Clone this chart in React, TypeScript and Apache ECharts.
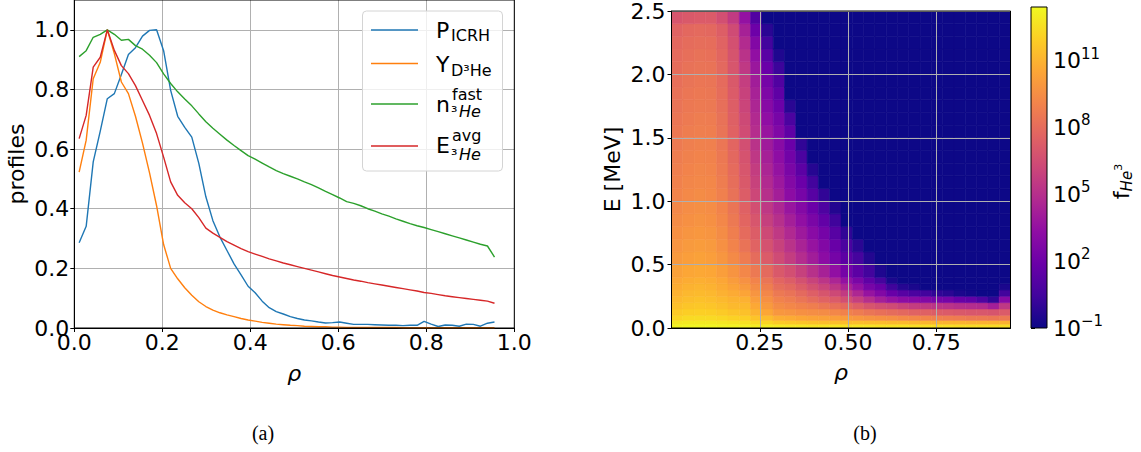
import React, { useEffect, useRef } from 'react';
import * as echarts from 'echarts';

// ---------- panel (a): normalised radial profiles ----------
const rho = [0.011, 0.027, 0.043, 0.059, 0.075, 0.091, 0.107, 0.123, 0.139, 0.155, 0.171, 0.187, 0.203, 0.219, 0.235, 0.251, 0.267, 0.283, 0.299, 0.315, 0.331, 0.347, 0.363, 0.379, 0.395, 0.411, 0.427, 0.443, 0.459, 0.475, 0.491, 0.507, 0.523, 0.539, 0.555, 0.571, 0.587, 0.603, 0.619, 0.635, 0.651, 0.667, 0.683, 0.699, 0.715, 0.731, 0.747, 0.763, 0.779, 0.795, 0.811, 0.827, 0.843, 0.859, 0.875, 0.891, 0.907, 0.923, 0.939, 0.955];
const pICRH = [0.286, 0.341, 0.557, 0.66, 0.769, 0.786, 0.85, 0.917, 0.94, 0.979, 0.998, 1.0, 0.93, 0.797, 0.71, 0.673, 0.64, 0.552, 0.44, 0.36, 0.305, 0.26, 0.215, 0.178, 0.14, 0.118, 0.09, 0.068, 0.055, 0.047, 0.038, 0.032, 0.027, 0.024, 0.02, 0.017, 0.018, 0.02, 0.016, 0.012, 0.012, 0.012, 0.011, 0.01, 0.009, 0.009, 0.008, 0.009, 0.009, 0.022, 0.013, 0.005, 0.01, 0.009, 0.006, 0.013, 0.012, 0.006, 0.016, 0.02];
const yD3He = [0.523, 0.63, 0.836, 0.891, 1.0, 0.92, 0.825, 0.786, 0.71, 0.62, 0.52, 0.41, 0.28, 0.2, 0.165, 0.135, 0.11, 0.088, 0.072, 0.06, 0.051, 0.044, 0.038, 0.032, 0.027, 0.023, 0.019, 0.016, 0.013, 0.011, 0.009, 0.008, 0.006, 0.005, 0.004, 0.004, 0.003, 0.003, 0.002, 0.002, 0.002, 0.002, 0.002, 0.002, 0.002, 0.002, 0.001, 0.001, 0.001, 0.001, 0.001, 0.001, 0.001, 0.001, 0.001, 0.001, 0.001, 0.001, 0.001, 0.001];
const nFast = [0.91, 0.93, 0.975, 0.985, 1.0, 0.985, 0.965, 0.968, 0.947, 0.935, 0.915, 0.89, 0.852, 0.82, 0.792, 0.768, 0.745, 0.718, 0.692, 0.67, 0.65, 0.63, 0.612, 0.595, 0.578, 0.566, 0.553, 0.54, 0.528, 0.518, 0.509, 0.5, 0.49, 0.481, 0.47, 0.458, 0.447, 0.436, 0.424, 0.418, 0.41, 0.4, 0.392, 0.383, 0.375, 0.366, 0.358, 0.35, 0.343, 0.337, 0.33, 0.323, 0.316, 0.309, 0.302, 0.295, 0.288, 0.281, 0.275, 0.238];
const eAvg = [0.635, 0.713, 0.875, 0.908, 1.0, 0.931, 0.88, 0.853, 0.813, 0.763, 0.713, 0.652, 0.573, 0.49, 0.445, 0.42, 0.4, 0.37, 0.335, 0.318, 0.304, 0.29, 0.278, 0.266, 0.256, 0.248, 0.24, 0.232, 0.225, 0.218, 0.212, 0.206, 0.2, 0.194, 0.188, 0.182, 0.176, 0.171, 0.166, 0.161, 0.157, 0.152, 0.148, 0.144, 0.14, 0.136, 0.132, 0.128, 0.124, 0.119, 0.116, 0.112, 0.108, 0.105, 0.102, 0.099, 0.096, 0.093, 0.09, 0.083];
const profileTicks = [0, 0.2, 0.4, 0.6, 0.8, 1.0];

// ---------- panel (b): log10 f_He3(rho, E) ----------
const rhoEdges = [0, 0.032, 0.064, 0.096, 0.128, 0.16, 0.192, 0.224, 0.256, 0.288, 0.32, 0.352, 0.384, 0.416, 0.448, 0.48, 0.512, 0.544, 0.576, 0.608, 0.64, 0.672, 0.704, 0.736, 0.768, 0.8, 0.832, 0.864, 0.896, 0.928, 0.96];
const energyEdges = [0, 0.03, 0.06, 0.1, 0.15, 0.2, 0.25, 0.3, 0.35, 0.4, 0.5, 0.6, 0.7, 0.8, 0.9, 1.0, 1.1, 1.2, 1.3, 1.4, 1.5, 1.6, 1.7, 1.8, 1.9, 2.0, 2.1, 2.2, 2.3, 2.4, 2.5];
// one row per rho column, values from the lowest energy bin upwards
const logF = [
  [13.2, 12.8, 12.2, 11.8, 11.45, 11.2, 10.95, 10.75, 10.55, 10.3, 10.0, 9.8, 9.6, 9.4, 9.25, 9.1, 8.95, 8.85, 8.75, 8.65, 8.55, 8.45, 8.35, 8.25, 8.15, 8.05, 7.95, 7.8, 7.6, 6.9],
  [13.3, 12.9, 12.35, 11.95, 11.65, 11.4, 11.15, 10.95, 10.75, 10.5, 10.2, 10.0, 9.8, 9.6, 9.45, 9.3, 9.15, 9.05, 8.95, 8.85, 8.75, 8.65, 8.55, 8.45, 8.35, 8.25, 8.15, 8.0, 7.8, 7.1],
  [13.3, 12.9, 12.4, 12.0, 11.7, 11.5, 11.25, 11.05, 10.85, 10.6, 10.3, 10.1, 9.9, 9.7, 9.55, 9.4, 9.25, 9.15, 9.05, 8.95, 8.85, 8.75, 8.65, 8.55, 8.45, 8.35, 8.25, 8.1, 7.9, 7.2],
  [13.3, 12.9, 12.35, 11.95, 11.65, 11.4, 11.15, 10.95, 10.75, 10.5, 10.2, 10.0, 9.8, 9.6, 9.45, 9.3, 9.2, 9.1, 9.0, 8.9, 8.8, 8.7, 8.6, 8.5, 8.4, 8.3, 8.2, 8.05, 7.8, 7.2],
  [13.2, 12.8, 12.25, 11.8, 11.45, 11.2, 10.9, 10.7, 10.5, 10.2, 9.85, 9.6, 9.4, 9.2, 9.05, 8.9, 8.75, 8.65, 8.55, 8.45, 8.35, 8.25, 8.15, 8.05, 7.95, 7.85, 7.75, 7.6, 7.35, 6.6],
  [13.2, 12.7, 12.1, 11.6, 11.2, 11.0, 10.7, 10.4, 10.1, 9.75, 9.35, 9.05, 8.8, 8.6, 8.4, 8.25, 8.1, 7.95, 7.8, 7.7, 7.55, 7.45, 7.35, 7.2, 7.1, 6.95, 6.85, 6.65, 6.4, 5.6],
  [13.1, 12.6, 12.0, 11.5, 11.2, 10.9, 10.45, 10.0, 9.65, 9.2, 8.7, 8.3, 7.95, 7.7, 7.5, 7.3, 7.1, 6.95, 6.8, 6.6, 6.45, 6.3, 6.1, 5.95, 5.75, 5.5, 5.2, 4.8, 4.3, 3.5],
  [13.0, 12.4, 11.6, 11.0, 10.6, 10.2, 9.8, 9.4, 9.05, 8.6, 8.0, 7.6, 7.3, 6.95, 6.6, 6.2, 5.95, 5.7, 5.45, 5.2, 4.95, 4.75, 4.55, 4.35, 4.1, 3.8, 3.4, 2.8, 2.0, 1.0],
  [13.0, 12.2, 11.3, 10.5, 10.0, 9.6, 9.2, 8.8, 8.4, 7.9, 7.2, 6.75, 6.3, 5.85, 5.45, 5.05, 4.75, 4.5, 4.25, 4.0, 3.7, 3.35, 3.0, 2.65, 2.3, 1.85, 1.3, 0.5, -0.2, -1],
  [12.9, 11.8, 10.8, 9.9, 9.4, 9.0, 8.6, 8.1, 7.7, 7.1, 6.4, 5.95, 5.5, 5.05, 4.6, 4.15, 3.85, 3.55, 3.3, 3.05, 2.75, 2.4, 2.0, 1.5, 1.0, 0.3, -0.5, -1, -1, -1],
  [12.8, 11.7, 10.7, 9.8, 9.2, 8.75, 8.3, 7.8, 7.3, 6.6, 5.7, 5.2, 4.7, 4.2, 3.7, 3.2, 2.85, 2.5, 2.2, 1.9, 1.5, 0.8, -0.2, -1, -1, -1, -1, -1, -1, -1],
  [12.8, 11.6, 10.5, 9.6, 9.0, 8.4, 7.9, 7.3, 6.7, 5.9, 4.9, 4.4, 3.9, 3.4, 2.9, 2.4, 1.9, 1.4, 0.8, 0.0, -1, -1, -1, -1, -1, -1, -1, -1, -1, -1],
  [12.7, 11.5, 10.4, 9.5, 8.8, 8.0, 7.4, 6.7, 6.0, 5.1, 4.1, 3.6, 3.1, 2.5, 1.9, 1.2, 0.5, -0.3, -1, -1, -1, -1, -1, -1, -1, -1, -1, -1, -1, -1],
  [12.7, 11.4, 10.3, 9.4, 8.5, 7.6, 6.9, 6.1, 5.3, 4.3, 3.2, 2.8, 2.3, 1.6, 0.9, 0.0, -1, -1, -1, -1, -1, -1, -1, -1, -1, -1, -1, -1, -1, -1],
  [12.7, 11.4, 10.2, 9.2, 8.2, 7.2, 6.3, 5.4, 4.5, 3.4, 2.3, 1.8, 1.2, 0.4, -0.4, -1, -1, -1, -1, -1, -1, -1, -1, -1, -1, -1, -1, -1, -1, -1],
  [12.6, 11.3, 10.1, 9.0, 7.9, 6.6, 5.6, 4.5, 3.5, 2.3, 1.4, 0.8, 0.0, -1, -1, -1, -1, -1, -1, -1, -1, -1, -1, -1, -1, -1, -1, -1, -1, -1],
  [12.7, 11.4, 9.9, 8.7, 7.4, 5.8, 4.6, 3.5, 2.5, 1.4, 0.6, -0.2, -1, -1, -1, -1, -1, -1, -1, -1, -1, -1, -1, -1, -1, -1, -1, -1, -1, -1],
  [12.7, 11.3, 9.7, 8.4, 6.9, 5.0, 3.6, 2.4, 1.5, 0.5, -0.4, -1, -1, -1, -1, -1, -1, -1, -1, -1, -1, -1, -1, -1, -1, -1, -1, -1, -1, -1],
  [12.6, 11.3, 9.6, 8.2, 6.6, 4.2, 2.8, 1.8, 0.6, -0.5, -1, -1, -1, -1, -1, -1, -1, -1, -1, -1, -1, -1, -1, -1, -1, -1, -1, -1, -1, -1],
  [12.6, 11.2, 9.5, 8.0, 6.4, 3.6, 1.8, 0.4, -0.6, -1, -1, -1, -1, -1, -1, -1, -1, -1, -1, -1, -1, -1, -1, -1, -1, -1, -1, -1, -1, -1],
  [12.6, 11.2, 9.3, 7.8, 6.0, 3.2, 1.2, -0.3, -1, -1, -1, -1, -1, -1, -1, -1, -1, -1, -1, -1, -1, -1, -1, -1, -1, -1, -1, -1, -1, -1],
  [12.5, 11.1, 9.2, 7.6, 5.7, 3.0, 0.8, -0.6, -1, -1, -1, -1, -1, -1, -1, -1, -1, -1, -1, -1, -1, -1, -1, -1, -1, -1, -1, -1, -1, -1],
  [12.5, 11.1, 9.1, 7.5, 5.5, 2.8, 0.5, -1, -1, -1, -1, -1, -1, -1, -1, -1, -1, -1, -1, -1, -1, -1, -1, -1, -1, -1, -1, -1, -1, -1],
  [12.5, 11.0, 8.9, 7.3, 5.3, 2.4, 0.0, -1, -1, -1, -1, -1, -1, -1, -1, -1, -1, -1, -1, -1, -1, -1, -1, -1, -1, -1, -1, -1, -1, -1],
  [12.5, 11.0, 8.8, 7.2, 5.2, 2.3, -0.2, -1, -1, -1, -1, -1, -1, -1, -1, -1, -1, -1, -1, -1, -1, -1, -1, -1, -1, -1, -1, -1, -1, -1],
  [12.4, 11.0, 8.7, 7.1, 5.0, 1.8, -0.6, -1, -1, -1, -1, -1, -1, -1, -1, -1, -1, -1, -1, -1, -1, -1, -1, -1, -1, -1, -1, -1, -1, -1],
  [12.4, 10.9, 8.6, 7.0, 4.9, 1.6, -0.8, -1, -1, -1, -1, -1, -1, -1, -1, -1, -1, -1, -1, -1, -1, -1, -1, -1, -1, -1, -1, -1, -1, -1],
  [12.4, 10.9, 8.6, 7.0, 4.8, 0.9, -1, -1, -1, -1, -1, -1, -1, -1, -1, -1, -1, -1, -1, -1, -1, -1, -1, -1, -1, -1, -1, -1, -1, -1],
  [12.4, 10.9, 8.5, 6.9, 4.2, 0.0, -1, -1, -1, -1, -1, -1, -1, -1, -1, -1, -1, -1, -1, -1, -1, -1, -1, -1, -1, -1, -1, -1, -1, -1],
  [12.4, 10.9, 8.6, 7.2, 5.5, 3.0, 0.5, -0.6, -1, -1, -1, -1, -1, -1, -1, -1, -1, -1, -1, -1, -1, -1, -1, -1, -1, -1, -1, -1, -1, -1],
];
const rhoTicksB = [0.25, 0.5, 0.75];
const colorbarExponents = [-1, 2, 5, 8, 11];
const logFMin = -1;
const logFMax = 13.4;
const plasma = ['#0d0887', '#41049d', '#6a00a8', '#8f0da4', '#b12a90', '#cc4778', '#e16462', '#f2844b', '#fca636', '#fcce25', '#f0f921'];

const FONT = 'DejaVu Sans';
const FS = 22;
const lineColors = ['#1f77b4', '#ff7f0e', '#2ca02c', '#d62728'];

export default function App() {
  const ref = useRef<HTMLDivElement>(null);

  useEffect(() => {
    const chart = echarts.init(ref.current as HTMLDivElement, null, { renderer: 'svg' });

    const heatData: number[][] = [];
    for (let i = 0; i < logF.length; i++) {
      for (let j = 0; j < logF[i].length; j++) {
        heatData.push([rhoEdges[i], rhoEdges[i + 1], energyEdges[j], energyEdges[j + 1], logF[i][j]]);
      }
    }
    const pair = (vals: number[]) => vals.map((v, i) => [rho[i], v]);

    const labelStyle = { fontFamily: FONT, fontSize: FS, color: '#000' };
    const tick = { show: true, length: 4, inside: false, lineStyle: { color: '#000', width: 1 } };
    const split = { show: true, lineStyle: { color: '#b0b0b0', width: 1 } };
    const axisLine = { show: true, lineStyle: { color: '#000', width: 1 } };
    const nameStyle = { fontFamily: FONT, fontSize: FS, color: '#000' };

    const lineSeries = [pICRH, yD3He, nFast, eAvg].map((vals, k) => ({
      type: 'line',
      xAxisIndex: 0,
      yAxisIndex: 0,
      data: pair(vals),
      showSymbol: false,
      symbol: 'none',
      lineStyle: { color: lineColors[k], width: 1.4 },
      itemStyle: { color: lineColors[k] },
      z: 3,
    }));

    const legendRows = [30, 63.5, 104, 146];
    const txt = (x: number, y: number, text: string, size: number, italic = false) => ({
      type: 'text',
      x,
      y,
      z: 101,
      style: {
        text,
        fontFamily: FONT,
        fontSize: size,
        fontStyle: italic ? 'italic' : 'normal',
        fill: '#000',
        verticalAlign: 'middle',
        align: 'left',
      },
    });

    const option: any = {
      animation: false,
      backgroundColor: '#fff',
      grid: [
        { left: 74.3, top: -1, width: 440, height: 329, show: true, borderColor: '#000', borderWidth: 1, backgroundColor: 'transparent', z: 4 },
        { left: 671.5, top: 7, width: 339, height: 321, show: true, borderColor: '#000', borderWidth: 1, backgroundColor: 'transparent', z: 6 },
        { left: 1031, top: 7, width: 16, height: 321, show: true, borderColor: '#000', borderWidth: 1, backgroundColor: 'transparent', z: 6 },
      ],
      visualMap: {
        type: 'continuous',
        show: false,
        min: logFMin,
        max: logFMax,
        dimension: 4,
        seriesIndex: 4,
        inRange: { color: plasma },
      },
      xAxis: [
        {
          type: 'value', gridIndex: 0, min: 0, max: 1, interval: 0.2,
          axisLine, axisTick: tick, splitLine: split,
          axisLabel: { ...labelStyle, margin: 3, formatter: (v: number) => v.toFixed(1) },
          name: 'ρ', nameLocation: 'middle', nameGap: 34,
          nameTextStyle: { ...nameStyle, fontStyle: 'italic' },
        },
        {
          type: 'value', gridIndex: 1, min: 0, max: 0.96, interval: 0.25, z: 5,
          axisLine, splitLine: split,
          axisTick: { ...tick, customValues: rhoTicksB },
          axisLabel: { ...labelStyle, margin: 3, customValues: rhoTicksB, formatter: (v: number) => v.toFixed(2) },
          name: 'ρ', nameLocation: 'middle', nameGap: 33,
          nameTextStyle: { ...nameStyle, fontStyle: 'italic' },
        },
        { type: 'value', gridIndex: 2, min: 0, max: 1, show: false },
      ],
      yAxis: [
        {
          type: 'value', gridIndex: 0, min: 0, max: 1.1, interval: 0.2,
          axisLine, splitLine: split,
          axisTick: { ...tick, customValues: profileTicks },
          axisLabel: { ...labelStyle, margin: 5, customValues: profileTicks, formatter: (v: number) => v.toFixed(1) },
          name: 'profiles', nameLocation: 'middle', nameGap: 47, nameRotate: 90,
          nameTextStyle: nameStyle,
        },
        {
          type: 'value', gridIndex: 1, min: 0, max: 2.5, interval: 0.5, z: 5,
          axisLine, axisTick: tick, splitLine: split,
          axisLabel: { ...labelStyle, margin: 6, formatter: (v: number) => v.toFixed(1) },
          name: 'E [MeV]', nameLocation: 'middle', nameGap: 48, nameRotate: 90,
          nameTextStyle: nameStyle,
        },
        {
          type: 'value', gridIndex: 2, min: logFMin, max: logFMax, position: 'right',
          axisLine: { show: false }, splitLine: { show: false },
          axisTick: { ...tick, customValues: colorbarExponents },
          axisLabel: {
            ...labelStyle,
            margin: 6,
            customValues: colorbarExponents,
            formatter: (v: number) => {
              const e = Math.round(v);
              return '{b|10}{s|' + (e < 0 ? '\u2212' + -e : String(e)) + '}';
            },
            rich: {
              b: { fontFamily: FONT, fontSize: FS, color: '#000' },
              s: { fontFamily: FONT, fontSize: 15, color: '#000', padding: [0, 0, 14, 0] },
            },
          },
          name: '{f|f}{h|He}{p|3}', nameLocation: 'middle', nameGap: 62, nameRotate: 90,
          nameTextStyle: {
            ...nameStyle,
            padding: [0, 28, 0, 0],
            rich: {
              f: { fontFamily: FONT, fontSize: FS, color: '#000' },
              h: { fontFamily: FONT, fontSize: 15, fontStyle: 'italic', color: '#000', padding: [10, 0, 0, 0] },
              p: { fontFamily: FONT, fontSize: 11, color: '#000', padding: [0, 0, 6, 0] },
            },
          },
        },
      ],
      series: [
        ...lineSeries,
        {
          type: 'custom',
          xAxisIndex: 1,
          yAxisIndex: 1,
          z: 1,
          clip: true,
          encode: { x: [0, 1], y: [2, 3] },
          data: heatData,
          renderItem: (params: any, api: any) => {
            const a = api.coord([api.value(0), api.value(3)]);
            const b = api.coord([api.value(1), api.value(2)]);
            const c = api.visual('color');
            return {
              type: 'rect',
              shape: { x: a[0], y: a[1], width: b[0] - a[0], height: b[1] - a[1] },
              style: { fill: c, stroke: c, lineWidth: 0.6 },
            };
          },
        },
      ],
      graphic: [
        {
          type: 'rect',
          z: 2,
          shape: { x: 1031, y: 7, width: 16, height: 321 },
          style: {
            fill: new echarts.graphic.LinearGradient(0, 1, 0, 0, plasma.map((c, i) => ({ offset: i / (plasma.length - 1), color: c }))),
          },
        },
        {
          type: 'rect',
          z: 100,
          shape: { x: 362.5, y: 11, width: 140, height: 160, r: 4 },
          style: { fill: 'rgba(255,255,255,0.8)', stroke: '#d4d4d4', lineWidth: 1 },
        },
        ...legendRows.map((y, k) => ({
          type: 'line',
          z: 101,
          shape: { x1: 371, y1: y, x2: 418, y2: y },
          style: { stroke: lineColors[k], lineWidth: 1.4 },
        })),
        txt(436, 30, 'P', FS),
        txt(451, 35.8, 'ICRH', 16),
        txt(436, 64.3, 'Y', FS),
        txt(451, 70.8, 'D³He', 16),
        txt(436, 104.6, 'n', FS),
        txt(452, 94.5, 'fast', 16),
        txt(451, 111.8, '³', 16),
        txt(459, 111.8, 'He', 16, true),
        txt(436, 145.6, 'E', FS),
        txt(452, 135.5, 'avg', 16),
        txt(451, 154.8, '³', 16),
        txt(459, 154.8, 'He', 16, true),
        {
          type: 'text', z: 101, x: 263, y: 433,
          style: { text: '(a)', fontFamily: 'Liberation Serif', fontSize: 20, fill: '#000', align: 'center', verticalAlign: 'middle' },
        },
        {
          type: 'text', z: 101, x: 865, y: 433,
          style: { text: '(b)', fontFamily: 'Liberation Serif', fontSize: 20, fill: '#000', align: 'center', verticalAlign: 'middle' },
        },
      ],
    };

    chart.setOption(option);
    return () => chart.dispose();
  }, []);

  return <div ref={ref} style={{ position: 'absolute', left: 0, top: 0, width: 1141, height: 452 }} />;
}
